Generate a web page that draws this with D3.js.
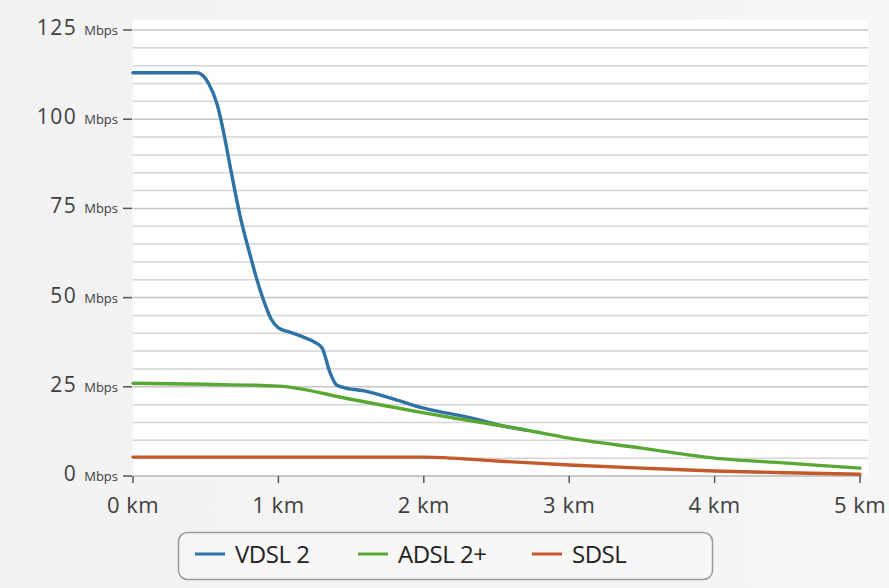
<!DOCTYPE html>
<html>
<head>
<meta charset="utf-8">
<script src="https://cdn.jsdelivr.net/npm/d3@7"></script>
<style>
  html, body { margin: 0; padding: 0; background: #f4f4f4; }
  svg { display: block; font-family: "Open Sans", Lato, sans-serif; }
</style>
</head>
<body>
<svg id="chart" width="889" height="588"></svg>
<script>
// distances (km) and speeds (Mbps)
var vdslKm  = [0, 0.44, 0.52, 0.58, 0.63, 0.667, 0.736, 0.805, 0.86, 0.90, 0.95, 1.0, 1.08, 1.18, 1.25, 1.30, 1.355, 1.40, 1.45, 1.6, 1.8, 2.0, 2.3, 2.6, 2.7];
var vdslVal = [113, 113, 110, 104, 95, 87, 73, 62, 54, 49, 44, 41.5, 40.3, 38.8, 37.5, 35.9, 29, 25.5, 24.8, 23.8, 21.5, 19, 16.5, 13.6, 12.9];
var adslKm  = [0, 0.5, 1, 1.5, 2, 2.7, 3, 3.5, 4, 4.5, 5];
var adslVal = [26, 25.7, 25.2, 21.5, 17.7, 12.9, 10.6, 7.8, 5, 3.6, 2.2];
var sdslKm  = [0, 1, 2, 2.5, 3, 3.5, 4, 4.5, 5];
var sdslVal = [5.3, 5.3, 5.3, 4.2, 3.1, 2.2, 1.4, 0.9, 0.5];

var yTicks = [0, 25, 50, 75, 100, 125];
var xTicks = [0, 1, 2, 3, 4, 5];
var seriesNames = ["VDSL 2", "ADSL 2+", "SDSL"];
var seriesColors = ["#2e72a6", "#5aa834", "#c4592c"];

var svg = d3.select("#chart");

var x = d3.scaleLinear().domain([0, 5]).range([133, 860]);
var y = d3.scaleLinear().domain([0, 125]).range([476, 30]);

// background
var defs = svg.append("defs");
var grad = defs.append("linearGradient").attr("id", "bg").attr("x1", 0).attr("x2", 1).attr("y1", 0).attr("y2", 0);
grad.append("stop").attr("offset", "0%").attr("stop-color", "#f2f2f2");
grad.append("stop").attr("offset", "100%").attr("stop-color", "#f6f6f6");
svg.append("rect").attr("width", 889).attr("height", 588).attr("fill", "url(#bg)");
svg.append("rect").attr("x", 133).attr("y", 20).attr("width", 735).attr("height", 456).attr("fill", "#ffffff");

// horizontal grid every 5 Mbps
svg.append("g").selectAll("line")
  .data(d3.range(5, 126, 5))
  .enter().append("line")
  .attr("x1", 133).attr("x2", 868)
  .attr("y1", function(d) { return y(d); })
  .attr("y2", function(d) { return y(d); })
  .attr("stroke", function(d) { return d % 25 === 0 ? "#c4c4c4" : "#d6d6d6"; })
  .attr("stroke-width", 1.5);

// x axis
svg.append("line")
  .attr("x1", 133).attr("x2", 862)
  .attr("y1", y(0)).attr("y2", y(0))
  .attr("stroke", "#b8b8b8").attr("stroke-width", 1.5);

var xt = svg.append("g").selectAll("g")
  .data(xTicks).enter().append("g")
  .attr("transform", function(d) { return "translate(" + x(d) + "," + y(0) + ")"; });
xt.append("line").attr("y2", 7).attr("stroke", "#555").attr("stroke-width", 1.5);
xt.append("text")
  .attr("y", 37)
  .attr("text-anchor", "middle")
  .attr("fill", "#404040")
  .style("font-size", "22px")
  .style("letter-spacing", "0.5px")
  .text(function(d) { return d + " km"; });

// y axis labels
var yt = svg.append("g").selectAll("g")
  .data(yTicks).enter().append("g")
  .attr("transform", function(d) { return "translate(0," + y(d) + ")"; });
yt.append("line").attr("x1", 123).attr("x2", 132).attr("stroke", "#555").attr("stroke-width", 1.5);
var yl = yt.append("text")
  .attr("x", 118)
  .attr("y", 5)
  .attr("text-anchor", "end")
  .attr("fill", "#404040");
yl.append("tspan").style("font-size", "21px").style("letter-spacing", "1.5px").text(function(d) { return d + " "; });
yl.append("tspan").style("font-size", "13px").text("Mbps");

// lines
var line = d3.line()
  .x(function(d) { return x(d[0]); })
  .y(function(d) { return y(d[1]); })
  .curve(d3.curveMonotoneX);

var series = [
  d3.zip(vdslKm, vdslVal),
  d3.zip(adslKm, adslVal),
  d3.zip(sdslKm, sdslVal)
];

// draw SDSL, VDSL, then ADSL on top
[2, 0, 1].forEach(function(i) {
  svg.append("path")
    .datum(series[i])
    .attr("d", line)
    .attr("fill", "none")
    .attr("stroke", seriesColors[i])
    .attr("stroke-width", 3.4)
    .attr("stroke-linecap", "round")
    .attr("stroke-linejoin", "round");
});

// legend
var legend = svg.append("g");
legend.append("rect")
  .attr("x", 178.5).attr("y", 532.5)
  .attr("width", 534).attr("height", 47)
  .attr("rx", 9).attr("ry", 9)
  .attr("fill", "#f7f7f7")
  .attr("stroke", "#9a9a9a").attr("stroke-width", 1.5);

var legX = [195, 358, 532];
var li = legend.selectAll("g.item")
  .data(seriesNames).enter().append("g")
  .attr("class", "item")
  .attr("transform", function(d, i) { return "translate(" + legX[i] + ",554)"; });
li.append("line").attr("x1", 0).attr("x2", 30)
  .attr("stroke", function(d, i) { return seriesColors[i]; })
  .attr("stroke-width", 3);
li.append("text")
  .attr("x", 40).attr("y", 9)
  .attr("fill", "#222")
  .style("font-size", "24px")
  .style("letter-spacing", "-0.5px")
  .text(function(d) { return d; });
</script>
</body>
</html>
